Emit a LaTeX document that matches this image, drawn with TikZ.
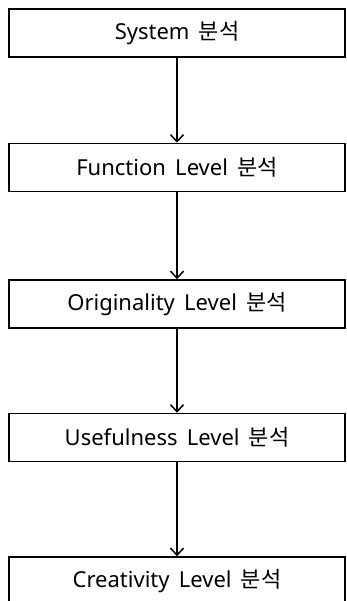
\documentclass[tikz,border=0pt]{standalone}
\usepackage{fontspec}
\setmainfont{Noto Sans}
\newfontfamily\krfont{Noto Sans CJK KR}
\newcommand{\bunseok}{{\krfont 분석}}
\newcommand{\levelfont}{\fontsize{22}{26}\selectfont\spaceskip=0.42em plus 0.1em\relax}
\usepackage{tikz}
\usetikzlibrary{positioning}
\usetikzlibrary{arrows.meta}

\begin{document}
\begin{tikzpicture}[x=1pt,y=-1pt]

 \tikzset{levelbox/.style={
 		draw,
 		line width=1.5pt,
 		minimum width=336pt,
 		minimum height=48pt,
 		inner sep=0pt,
 		anchor=center,
 		font=\levelfont
 	},
 	flow/.style={
 		line width=1.5pt,
 		-{Straight Barb[length=7pt,width=13pt,line width=1.5pt]}
 	}
 }
 \useasboundingbox (0,0) rectangle (346,601);
 %boxes
 \node[levelbox] (sys) at (177,33) {System \bunseok};
 \node[levelbox, below=85pt of sys] (fun) {Function Level \bunseok};
 \node[levelbox, below=87pt of fun] (ori) {Originality Level \bunseok};
 \node[levelbox, below=84pt of ori] (use) {Usefulness Level \bunseok};
 \node[levelbox, below=94pt of use] (cre) {Creativity Level \bunseok};
 %arrows
 \draw[flow] (sys) -- (fun);
 \draw[flow] (fun) -- (ori);
 \draw[flow] (ori) -- (use);
 \draw[flow] (use) -- (cre);
\end{tikzpicture}
\end{document}
